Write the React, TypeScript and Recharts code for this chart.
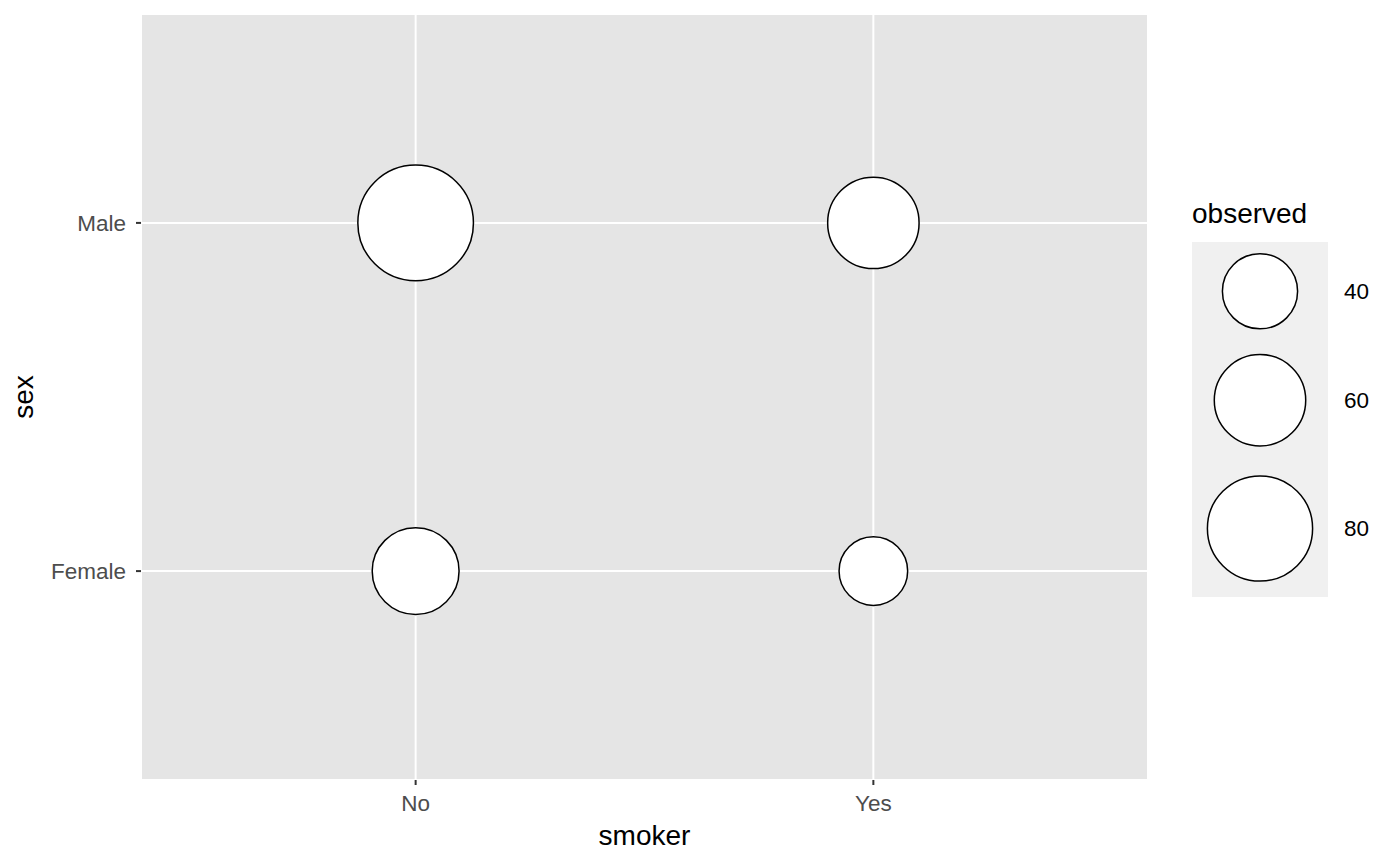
import React from 'react';
import { ScatterChart, Scatter, XAxis, YAxis, ZAxis, CartesianGrid } from 'recharts';

// tips data: counts of smoker by sex
const smokerCats = ['No', 'Yes'];
const sexCats = ['Female', 'Male'];
const cellSmoker = ['No', 'Yes', 'No', 'Yes'];
const cellSex = ['Male', 'Male', 'Female', 'Female'];
const cellObserved = [97, 60, 54, 33];
const legendValues = [40, 60, 80];

const FONT = '"Liberation Sans", Arial, Helvetica, sans-serif';
const TICK_FS = 22.5;
const TITLE_FS = 28;

const sizeDomain = [Math.min(...cellObserved), Math.max(...cellObserved)];
const sizeRange = [3696, 10495]; // circle area in px^2

const data = cellObserved.map((v, i) => ({
  x: smokerCats.indexOf(cellSmoker[i]) + 1,
  y: sexCats.indexOf(cellSex[i]) + 1,
  observed: v,
}));

// legend key heights follow the key circle sizes
const areaOf = (v: number) =>
  sizeRange[0] + ((v - sizeDomain[0]) / (sizeDomain[1] - sizeDomain[0])) * (sizeRange[1] - sizeRange[0]);
const keyHeights = legendValues.map((v) => 1.285 * (2 * Math.sqrt(areaOf(v) / Math.PI) + 1.5));
const keyCenters = keyHeights.map((h, i) => keyHeights.slice(0, i).reduce((a, b) => a + b, 0) + h / 2);
const legendH = Math.round(keyHeights.reduce((a, b) => a + b, 0));
const legendData = legendValues.map((v, i) => ({ x: 0.5, y: keyCenters[i], observed: v }));

const Balloon = (props: any) => {
  const { cx, cy, width } = props;
  return <circle cx={cx} cy={cy} r={width / 2} fill="#ffffff" stroke="#000000" strokeWidth={1.5} />;
};

const App: React.FC = () => {
  return (
    <div style={{ position: 'absolute', left: 0, top: 0, width: 1400, height: 866, background: '#fff', fontFamily: FONT }}>
      <ScatterChart width={1400} height={866} margin={{ top: 14, right: 252, bottom: 0, left: 0 }}>
        <CartesianGrid fill="#E5E5E5" stroke="#ffffff" strokeWidth={2} />
        <XAxis
          type="number"
          dataKey="x"
          domain={[0.4, 2.6]}
          ticks={[1, 2]}
          tickFormatter={(v: number) => smokerCats[v - 1]}
          height={86}
          axisLine={false}
          tickSize={5}
          tickMargin={10}
          tickLine={{ stroke: '#333333', strokeWidth: 2 }}
          tick={{ fill: '#4D4D4D', fontSize: TICK_FS, fontFamily: FONT }}
          label={{ value: 'smoker', position: 'insideBottom', offset: 21, fill: '#000000', fontSize: TITLE_FS, fontFamily: FONT }}
        />
        <YAxis
          type="number"
          dataKey="y"
          domain={[0.4, 2.6]}
          ticks={[1, 2]}
          tickFormatter={(v: number) => sexCats[v - 1]}
          width={141}
          axisLine={false}
          tickSize={5}
          tickMargin={10}
          tickLine={{ stroke: '#333333', strokeWidth: 2 }}
          tick={{ fill: '#4D4D4D', fontSize: TICK_FS, fontFamily: FONT }}
          label={{
            value: 'sex',
            angle: -90,
            position: 'insideLeft',
            offset: 23,
            fill: '#000000',
            fontSize: TITLE_FS,
            fontFamily: FONT,
            style: { textAnchor: 'middle' },
          }}
        />
        <ZAxis type="number" dataKey="observed" domain={sizeDomain} range={sizeRange} />
        <Scatter data={data} shape={Balloon} isAnimationActive={false} />
      </ScatterChart>

      <div style={{ position: 'absolute', left: 1192, top: 200, fontSize: TITLE_FS, lineHeight: '28px', color: '#000' }}>
        observed
      </div>

      <div style={{ position: 'absolute', left: 1192, top: 242 }}>
        <ScatterChart width={208} height={legendH} margin={{ top: 0, right: 0, bottom: 0, left: 0 }}>
          <CartesianGrid fill="#F0F0F0" horizontal={false} vertical={false} />
          <XAxis type="number" dataKey="x" domain={[0, 1]} hide />
          <YAxis
            type="number"
            dataKey="y"
            orientation="right"
            reversed
            domain={[0, legendH]}
            ticks={keyCenters}
            tickFormatter={(_v: number, i: number) => String(legendValues[i])}
            width={72}
            axisLine={false}
            tickLine={false}
            tickSize={0}
            tickMargin={16}
            tick={{ fill: '#000000', fontSize: TICK_FS, fontFamily: FONT, textAnchor: 'start' }}
            interval={0}
          />
          <ZAxis type="number" dataKey="observed" domain={sizeDomain} range={sizeRange} />
          <Scatter data={legendData} shape={Balloon} isAnimationActive={false} />
        </ScatterChart>
      </div>
    </div>
  );
};

export default App;
